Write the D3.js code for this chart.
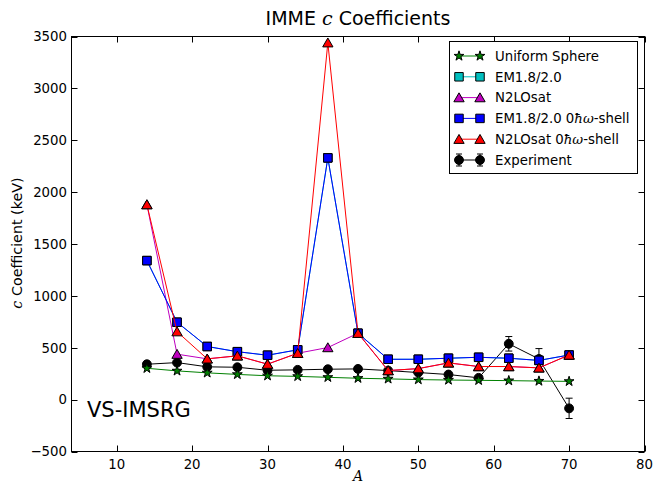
<!DOCTYPE html>
<html>
<head>
<meta charset="utf-8">
<script src="https://cdn.jsdelivr.net/npm/d3@7"></script>
<style>
  html, body { margin: 0; padding: 0; background: #fff; }
  svg { display: block; font-family: "DejaVu Sans", sans-serif; }
</style>
</head>
<body>
<svg id="chart" width="658" height="486"></svg>
<script>
// Mass numbers of the multiplets
const massNumbers = [14, 18, 22, 26, 30, 34, 38, 42, 46, 50, 54, 58, 62, 66, 70];

// c coefficients (keV)
const uniformSphere = [302, 277, 258, 243, 230, 224, 215, 206, 200, 193, 189, 186, 183, 179, 176];
const em18 = [1340, 746, 512, 462, 428, 480, 2330, 640, 389, 389, 399, 408, 399, 378, 430];
const n2losat = [1880, 438, 393, 422, 342, 447, 502, 640, 280, 299, 354, 319, 319, 306, 430];
const em18Shell = [1340, 746, 512, 462, 428, 480, 2330, 640, 389, 389, 399, 408, 399, 378, 430];
const n2losatShell = [1880, 655, 393, 422, 342, 447, 3440, 640, 280, 299, 354, 319, 319, 306, 430];
const experiment = [341, 357, 316, 312, 283, 287, 293, 296, 280, 261, 242, 210, 538, 392, -84];
const experimentErr = [4, 4, 4, 4, 4, 4, 4, 4, 4, 4, 4, 4, 70, 100, 98];

const xTicks = [10, 20, 30, 40, 50, 60, 70, 80];
const yTicks = [-500, 0, 500, 1000, 1500, 2000, 2500, 3000, 3500];

const svg = d3.select("#chart");
const plotLeft = 71.5, plotRight = 644.5, plotTop = 36.5, plotBottom = 451.5;

const x = d3.scaleLinear().domain([4, 80]).range([plotLeft, plotRight]);
const y = d3.scaleLinear().domain([-500, 3500]).range([plotBottom, plotTop]);

const plot = svg.append("g");

// series definitions, drawn in this order (experiment underneath)
const series = [
  { name: "Uniform Sphere", values: uniformSphere, line: "#008000", fill: "#008000", marker: "star" },
  { name: "EM1.8/2.0", values: em18, line: "#00bfbf", fill: "#00bfbf", marker: "square" },
  { name: "N2LOsat", values: n2losat, line: "#bf00bf", fill: "#bf00bf", marker: "triangle" },
  { name: "EM1.8/2.0 0", suffix: true, values: em18Shell, line: "#0000ff", fill: "#0000ff", marker: "square" },
  { name: "N2LOsat 0", suffix: true, values: n2losatShell, line: "#ff0000", fill: "#ff0000", marker: "triangle" }
];

const symbols = {
  star: d3.symbol().type(d3.symbolStar).size(30),
  square: d3.symbol().type(d3.symbolSquare).size(72),
  triangle: d3.symbol().type(d3.symbolTriangle).size(46),
  circle: d3.symbol().type(d3.symbolCircle).size(62)
};

function drawMarker(g, type, cx, cy, fill) {
  const dy = type === "triangle" ? 1.2 : 0;
  g.append("path")
    .attr("d", symbols[type]())
    .attr("transform", `translate(${cx},${cy + dy})`)
    .attr("fill", fill)
    .attr("stroke", "#000")
    .attr("stroke-width", 1);
}

const line = d3.line().x(d => x(d[0])).y(d => y(d[1]));

// Experiment with error bars
const expG = plot.append("g");
expG.append("path")
  .attr("d", line(massNumbers.map((a, i) => [a, experiment[i]])))
  .attr("fill", "none").attr("stroke", "#000").attr("stroke-width", 1);
massNumbers.forEach((a, i) => {
  const cx = x(a), y1 = y(experiment[i] + experimentErr[i]), y0 = y(experiment[i] - experimentErr[i]);
  expG.append("line").attr("x1", cx).attr("x2", cx).attr("y1", y0).attr("y2", y1)
    .attr("stroke", "#000").attr("stroke-width", 1);
  [y0, y1].forEach(yy => expG.append("line").attr("x1", cx - 3.5).attr("x2", cx + 3.5)
    .attr("y1", yy).attr("y2", yy).attr("stroke", "#000").attr("stroke-width", 1));
  drawMarker(expG, "circle", cx, y(experiment[i]), "#000");
});

series.forEach(s => {
  const g = plot.append("g");
  g.append("path")
    .attr("d", line(massNumbers.map((a, i) => [a, s.values[i]])))
    .attr("fill", "none").attr("stroke", s.line).attr("stroke-width", 1);
  massNumbers.forEach((a, i) => drawMarker(g, s.marker, x(a), y(s.values[i]), s.fill));
});

// Frame and ticks (inward, on all four sides)
const axisG = svg.append("g");
axisG.append("rect").attr("x", plotLeft).attr("y", plotTop).attr("width", plotRight - plotLeft).attr("height", plotBottom - plotTop)
  .attr("fill", "none").attr("stroke", "#000").attr("stroke-width", 1);

const tickLen = 6;
xTicks.forEach(t => {
  const px = Math.round(x(t)) + 0.5;
  axisG.append("line").attr("x1", px).attr("x2", px).attr("y1", plotBottom).attr("y2", plotBottom - tickLen).attr("stroke", "#000");
  axisG.append("line").attr("x1", px).attr("x2", px).attr("y1", plotTop).attr("y2", plotTop + tickLen).attr("stroke", "#000");
  axisG.append("text").attr("x", x(t)).attr("y", 469).attr("text-anchor", "middle")
    .attr("font-size", "13.3px").text(t);
});
yTicks.forEach(t => {
  const py = Math.round(y(t)) + 0.5;
  axisG.append("line").attr("x1", plotLeft).attr("x2", plotLeft + tickLen).attr("y1", py).attr("y2", py).attr("stroke", "#000");
  axisG.append("line").attr("x1", plotRight).attr("x2", plotRight - tickLen).attr("y1", py).attr("y2", py).attr("stroke", "#000");
  axisG.append("text").attr("x", 67).attr("y", y(t) + 4.8).attr("text-anchor", "end")
    .attr("font-size", "13.3px").text(t < 0 ? "\u2212" + Math.abs(t) : t);
});

// Title
const title = svg.append("text").attr("x", 358).attr("y", 25).attr("text-anchor", "middle")
  .attr("font-size", "19px");
title.append("tspan").text("IMME ");
title.append("tspan").attr("font-family", "DejaVu Serif").attr("font-style", "italic").text("c");
title.append("tspan").text(" Coefficients");

// Axis labels
svg.append("text").attr("x", 358).attr("y", 481).attr("text-anchor", "middle")
  .attr("font-family", "DejaVu Serif").attr("font-style", "italic").attr("font-size", "14px").text("A");

const yl = svg.append("text").attr("transform", "translate(22,243) rotate(-90)")
  .attr("text-anchor", "middle").attr("font-size", "14.3px");
yl.append("tspan").attr("font-family", "DejaVu Serif").attr("font-style", "italic").text("c");
yl.append("tspan").text(" Coefficient (keV)");

// Annotation
svg.append("text").attr("x", 87).attr("y", 417).attr("font-size", "21px").text("VS-IMSRG");

// Legend
const lg = svg.append("g");
lg.append("rect").attr("x", 449.5).attr("y", 41.5).attr("width", 188).attr("height", 132)
  .attr("fill", "#fff").attr("stroke", "#000").attr("stroke-width", 1);
const legendItems = [...series, { name: "Experiment", line: "#000", fill: "#000", marker: "circle", err: true }];
legendItems.forEach((s, i) => {
  const cy = 56 + i * 20.8;
  const g = lg.append("g");
  g.append("line").attr("x1", 459).attr("x2", 480).attr("y1", cy).attr("y2", cy)
    .attr("stroke", s.line).attr("stroke-width", 1);
  if (s.err) {
    [459, 480].forEach(cx => {
      g.append("line").attr("x1", cx).attr("x2", cx).attr("y1", cy - 6).attr("y2", cy + 6).attr("stroke", "#000");
      [cy - 6, cy + 6].forEach(yy => g.append("line").attr("x1", cx - 3).attr("x2", cx + 3)
        .attr("y1", yy).attr("y2", yy).attr("stroke", "#000"));
    });
  }
  drawMarker(g, s.marker, 459, cy, s.fill);
  drawMarker(g, s.marker, 480, cy, s.fill);
  const t = g.append("text").attr("x", 495).attr("y", cy + 4.8).attr("font-size", "13.3px");
  t.append("tspan").text(s.name);
  if (s.suffix) {
    t.append("tspan").attr("font-family", "DejaVu Serif").attr("font-style", "italic").text("\u0127\u03c9");
    t.append("tspan").text("-shell");
  }
});
</script>
</body>
</html>
